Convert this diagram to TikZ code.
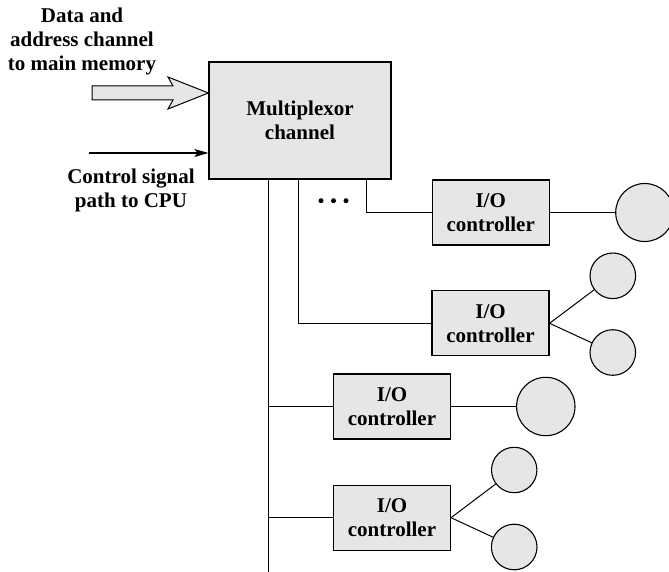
\documentclass[tikz,border=0pt]{standalone}
\usepackage{fontspec}
\setmainfont{Liberation Serif}
\usetikzlibrary{arrows.meta}
\definecolor{boxgray}{HTML}{E6E6E6}
\begin{document}
\begin{tikzpicture}[x=1pt,y=-1pt,
  lbl/.style={font=\fontsize{21}{24}\selectfont\bfseries, align=center, inner sep=0pt},
  box/.style={draw, fill=boxgray, line width=1.1pt, inner sep=0pt, align=center,
              font=\fontsize{21}{24}\selectfont\bfseries},
  dev/.style={circle, draw, fill=boxgray, line width=1.1pt, inner sep=0pt},
  wire/.style={line width=1pt}]
\useasboundingbox (0,0) rectangle (669,572);

% labels
\node[lbl] (datalbl) at (82,41.5) {Data and\\address channel\\to main memory};
\node[lbl] (ctrllbl) at (131,190) {Control signal\\path to CPU};

% multiplexor
\node[box, minimum width=182pt, minimum height=117pt] (mux) at (300,120.5) {Multiplexor\\channel};

% controllers
\node[box, minimum width=117pt, minimum height=65pt] (c1) at (490.7,212.5) {I/O\\controller};
\node[box, minimum width=117pt, minimum height=65pt] (c2) at (490.5,323.3) {I/O\\controller};
\node[box, minimum width=117pt, minimum height=65pt] (c3) at (392,406.5) {I/O\\controller};
\node[box, minimum width=117pt, minimum height=65pt] (c4) at (392,517.7) {I/O\\controller};

% devices
\node[dev, minimum size=58pt] (d1) at (644.7,212.5) {};
\node[dev, minimum size=45.6pt] (d2a) at (612.8,275.8) {};
\node[dev, minimum size=45.6pt] (d2b) at (612.8,352.5) {};
\node[dev, minimum size=58.4pt] (d3) at (545.8,406.5) {};
\node[dev, minimum size=45.4pt] (d4a) at (514.2,470) {};
\node[dev, minimum size=45.6pt] (d4b) at (514.2,547) {};

% block arrow (data/address channel)
\draw[fill=boxgray, line width=1pt, line join=miter]
  (92,86) -- (173,86) -- (168,77) -- (mux.west |- 0,93) -- (168,109) -- (173,100) -- (92,100) -- cycle;

% control signal arrow
\coordinate (ctrlstart) at (89,153);
\draw[wire, line width=1.4pt, -{Stealth[length=14pt,width=8pt,inset=3pt]}] (ctrlstart) -- (mux.west |- ctrlstart);

% bus and channels
\coordinate (busend) at (268.3,572);
\coordinate (k2) at (298.3,0);
\coordinate (k1) at (366.7,0);
\draw[wire] (mux.south -| busend) -- (busend);
\draw[wire] (mux.south -| k2) |- (c2.west);
\draw[wire] (mux.south -| k1) |- (c1.west);
\draw[wire] (busend |- c3.west) -- (c3.west);
\draw[wire] (busend |- c4.west) -- (c4.west);

% dots
\fill (321,200.7) circle (2.5pt);
\fill (333.5,200.7) circle (2.5pt);
\fill (346,200.7) circle (2.5pt);

% controller to devices
\draw[wire] (c1.east) -- (d1);
\draw[wire] (c2.east) -- (d2a);
\draw[wire] (c2.east) -- (d2b);
\draw[wire] (c3.east) -- (d3);
\draw[wire] (c4.east) -- (d4a);
\draw[wire] (c4.east) -- (d4b);
\end{tikzpicture}
\end{document}
